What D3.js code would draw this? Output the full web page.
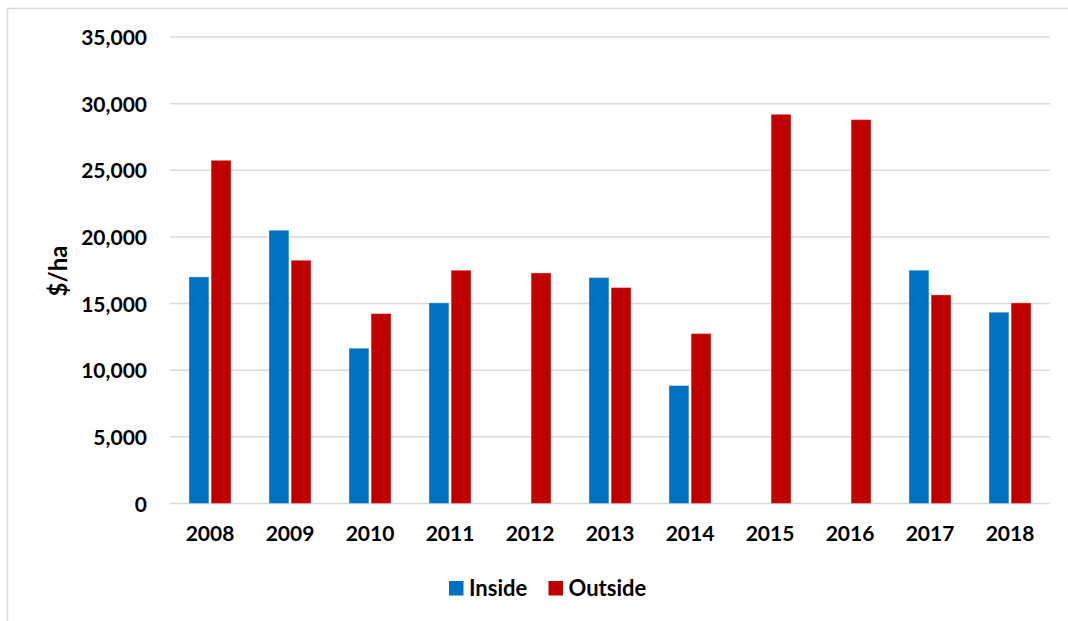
<!DOCTYPE html>
<html>
<head>
<meta charset="utf-8">
<script src="https://cdn.jsdelivr.net/npm/d3@7/dist/d3.min.js"></script>
<style>
  html, body { margin: 0; padding: 0; background: #fff; }
  svg { display: block; }
  text { font-family: Lato, "Open Sans", sans-serif; font-weight: 700; fill: #000; }
</style>
</head>
<body>
<svg id="chart" width="1068" height="621"></svg>
<script>
// Land value per hectare, inside vs outside the zone, by year
const years = ["2008", "2009", "2010", "2011", "2012", "2013", "2014", "2015", "2016", "2017", "2018"];
const insideValues  = [17000, 20500, 11650, 15050, null, 16950, 8850, null, null, 17500, 14350];
const outsideValues = [25750, 18250, 14250, 17500, 17300, 16200, 12750, 29200, 28800, 15650, 15050];
const seriesNames = ["Inside", "Outside"];
const seriesColors = ["#0070C0", "#C00000"];
const yTicks = [0, 5000, 10000, 15000, 20000, 25000, 30000, 35000];
const yTitle = "$/ha";

const svg = d3.select("#chart");

// outer chart frame
svg.append("rect")
  .attr("x", 7.5).attr("y", 8.5)
  .attr("width", 1080).attr("height", 700)
  .attr("fill", "none").attr("stroke", "#d9d9d9").attr("stroke-width", 1.5);

const plot = { left: 170, right: 1050, top: 37, bottom: 503.5 };

const x0 = d3.scaleBand().domain(years).range([plot.left, plot.right]).padding(0);
const x1 = d3.scaleBand().domain(seriesNames).range([-21, 21]).paddingInner(0.1);
const y = d3.scaleLinear().domain([0, 35000]).range([plot.bottom, plot.top]);

// gridlines
svg.append("g").selectAll("line").data(yTicks).join("line")
  .attr("x1", plot.left).attr("x2", plot.right)
  .attr("y1", d => y(d)).attr("y2", d => y(d))
  .attr("stroke", "#d9d9d9").attr("stroke-width", 1.5);

// y axis labels
const yAxis = d3.axisLeft(y).tickValues(yTicks).tickSize(0).tickPadding(23)
  .tickFormat(d3.format(","));
svg.append("g").attr("transform", `translate(${plot.left},0)`).call(yAxis)
  .call(g => g.select(".domain").remove())
  .selectAll("text").attr("font-size", 21).style("font-family", "Lato, sans-serif").style("font-weight", 700).attr("dy", "0.36em");

// x axis labels
const xAxis = d3.axisBottom(x0).tickSize(0).tickPadding(23);
svg.append("g").attr("transform", `translate(0,${plot.bottom})`).call(xAxis)
  .call(g => g.select(".domain").remove())
  .selectAll("text").attr("font-size", 21).style("font-family", "Lato, sans-serif").style("font-weight", 700);

// bars
const rows = years.map((yr, i) => ({ year: yr, values: [insideValues[i], outsideValues[i]] }));
const groups = svg.append("g").selectAll("g").data(rows).join("g")
  .attr("transform", d => `translate(${x0(d.year) + x0.bandwidth() / 2},0)`);
groups.selectAll("rect")
  .data(d => d.values.map((v, k) => ({ key: seriesNames[k], value: v, color: seriesColors[k] })).filter(e => e.value != null))
  .join("rect")
  .attr("x", d => x1(d.key))
  .attr("width", x1.bandwidth())
  .attr("y", d => y(d.value))
  .attr("height", d => y(0) - y(d.value))
  .attr("fill", d => d.color)
  .attr("stroke", "#ffffff").attr("stroke-opacity", 0.35).attr("stroke-width", 1);

// y axis title
svg.append("text")
  .attr("transform", "translate(67,271) rotate(-90)")
  .attr("text-anchor", "middle")
  .attr("font-size", 24)
  .text(yTitle);

// legend
const legendItems = [
  { name: seriesNames[0], color: seriesColors[0], x: 449 },
  { name: seriesNames[1], color: seriesColors[1], x: 548.5 }
];
const legend = svg.append("g");
legendItems.forEach(it => {
  legend.append("rect").attr("x", it.x).attr("y", 581).attr("width", 14.5).attr("height", 14.5).attr("fill", it.color);
  legend.append("text").attr("x", it.x + 20).attr("y", 595.5).attr("font-size", 22).text(it.name);
});
</script>
</body>
</html>
